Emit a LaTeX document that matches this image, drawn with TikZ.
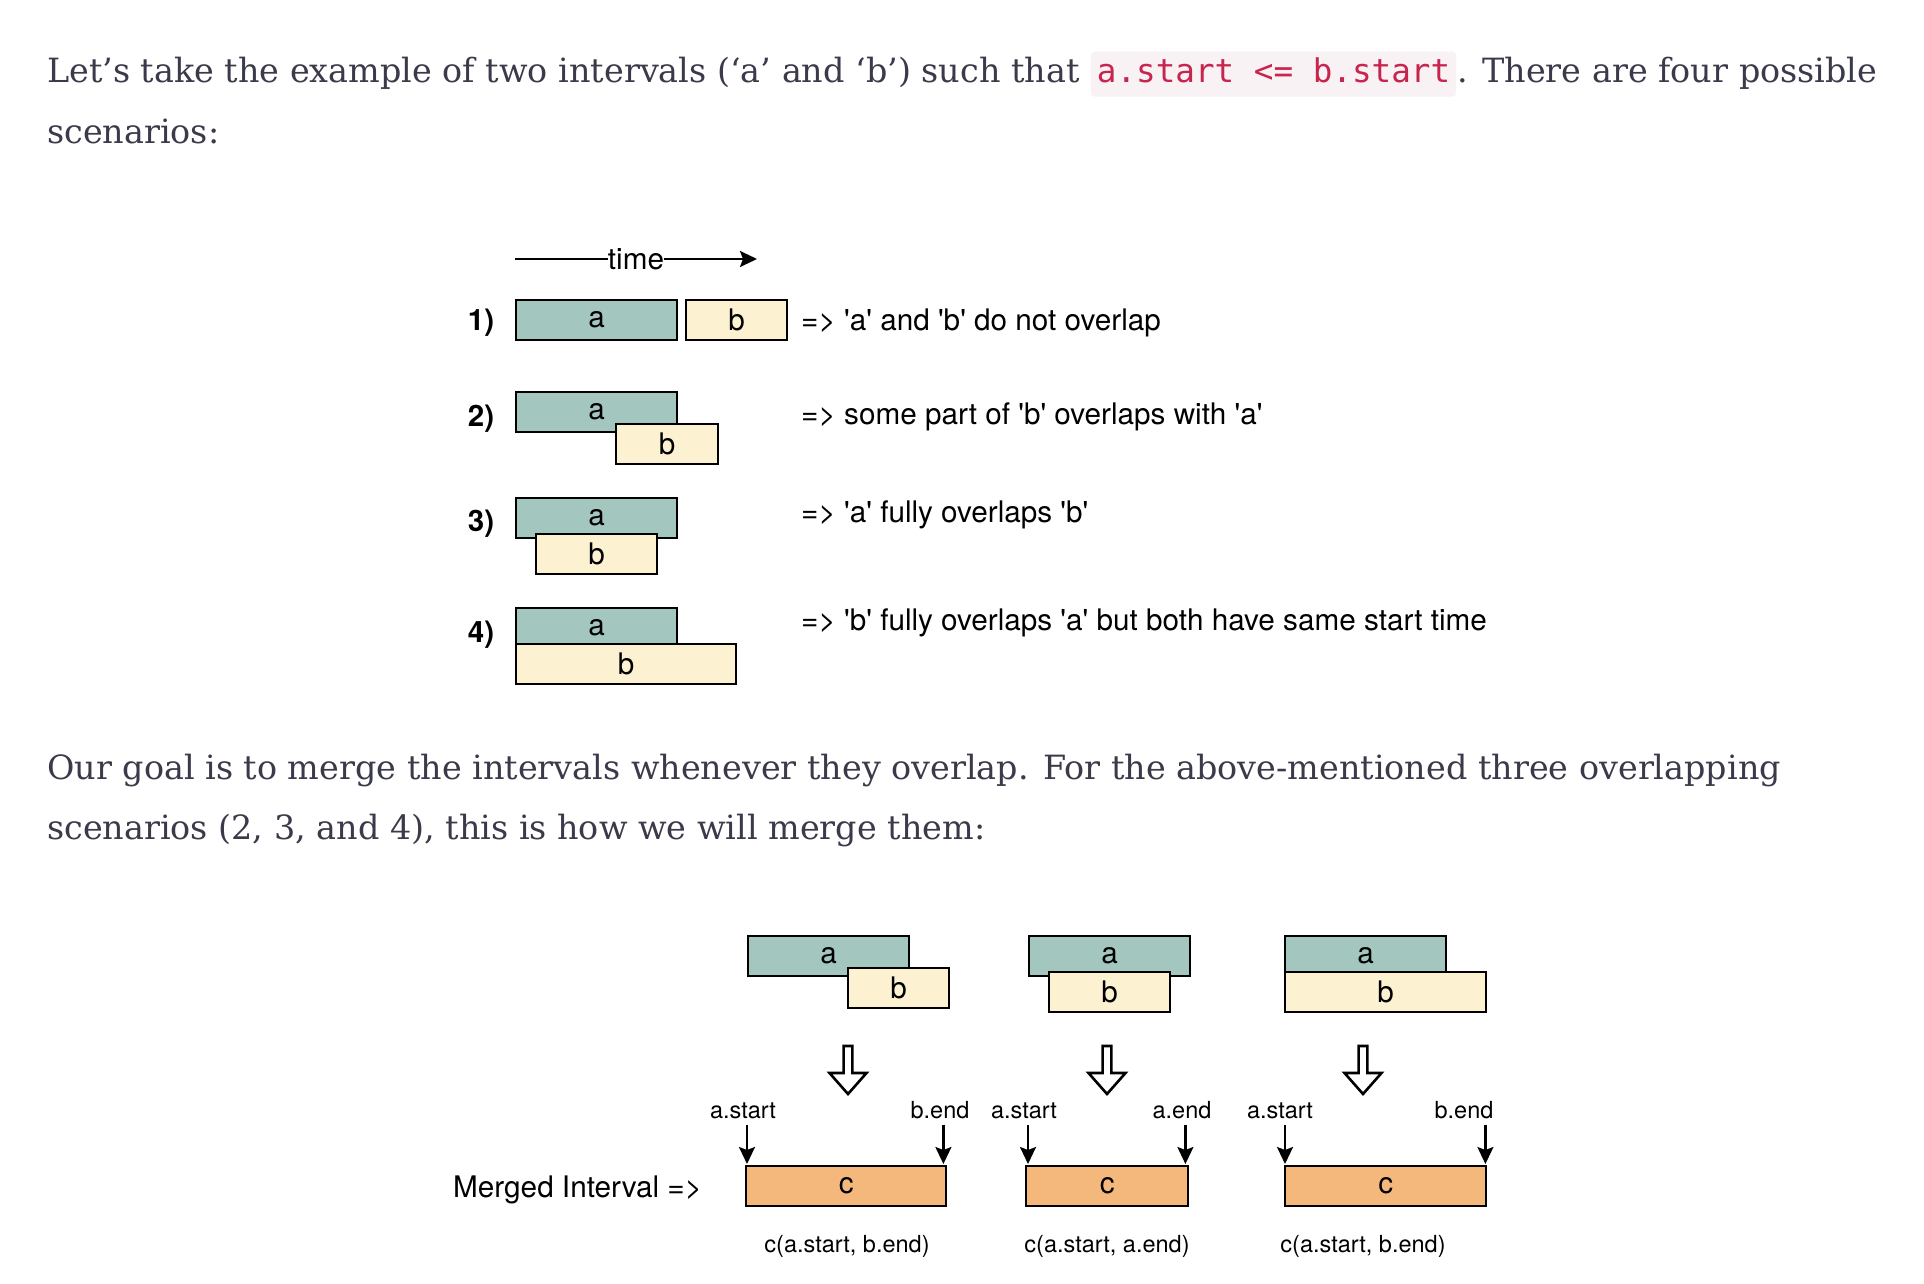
\documentclass[tikz,border=0pt]{standalone}
\usepackage{fontspec}
\newfontfamily\bodyfont{DejaVu Serif}
\newfontfamily\codefont{DejaVu Sans Mono}
\newfontfamily\diagfont[Ligatures=TeXOff]{TeX Gyre Heros}
\usetikzlibrary{arrows.meta}
\usetikzlibrary{positioning}
\definecolor{bodygray}{HTML}{3A3A4A}
\definecolor{codered}{HTML}{C7254E}
\definecolor{codebg}{HTML}{F9F2F4}
\definecolor{afill}{HTML}{A3C6BF}
\definecolor{bfill}{HTML}{FCF1D1}
\definecolor{cfill}{HTML}{F4B77C}
\tikzset{
    bodytext/.style={anchor=base west, inner sep=0, text=bodygray,
        font=\bodyfont\fontsize{33.4}{40}\selectfont},
    codetext/.style={anchor=base west, inner xsep=6, inner ysep=7,
        text height=24, text depth=7, fill=codebg, rounded corners=4,
        text=codered, font=\codefont\fontsize{32.6}{38}\selectfont},
    interval/.style={rectangle, anchor=north west, draw=black,
        line width=2.4, minimum height=40, inner sep=0,
        font=\diagfont\fontsize{29.7}{34}\selectfont},
    abox/.style={interval, fill=afill, minimum width=161},
    bbox/.style={interval, fill=bfill},
    cbox/.style={interval, fill=cfill},
    desc/.style={anchor=base west, inner sep=0,
        font=\diagfont\fontsize{29.7}{34}\selectfont},
    rowlabel/.style={anchor=base, inner sep=0,
        font=\diagfont\bfseries\fontsize{29.5}{34}\selectfont},
    endlabel/.style={anchor=base, inner sep=0,
        font=\diagfont\fontsize{23.5}{28}\selectfont},
    pointer/.style={line width=2.2, -{Stealth[length=17pt,width=16pt,inset=3pt]}},
    mergearrow/.style={draw=black, line width=2.6, fill=white, line join=miter},
}
\begin{document}
\begin{tikzpicture}[x=1pt, y=-1pt]
    \useasboundingbox[fill=white] (0,0) rectangle (1924,1284);

    % text above
    \node[bodytext] (intro) at (47,82.7)
        {Let’s take the example of two intervals (‘a’ and ‘b’) such that};
    \node[codetext] (cond) at ([xshift=11]intro.base east) {a.start <= b.start};
    \node[bodytext] (introend) at ([xshift=1]cond.base east)
        {. There are four possible};
    \node[bodytext] (intro2) at (47,144) {scenarios:};

    % time axis
    \coordinate (time0) at (515,259);
    \coordinate (time1) at (757,259);
    \draw[pointer] (time0) -- node[fill=white, inner xsep=0, inner ysep=2,
        font=\diagfont\fontsize{29.7}{34}\selectfont] (timelabel) {time} (time1);

    % the four scenarios
    \node[rowlabel] (row1) at (481,330) {1)};
    \node[abox] (a1) at (515,299) {a};
    \node[bbox, minimum width=101] (b1) at (685,299) {b};
    \node[desc] (d1) at (801,330) {=> 'a' and 'b' do not overlap};

    \node[rowlabel] (row2) at (481,426) {2)};
    \node[abox] (a2) at (515,391) {a};
    \node[bbox, minimum width=102] (b2) at (615,423) {b};
    \node[desc] (d2) at (801,424) {=> some part of 'b' overlaps with 'a'};

    \node[rowlabel] (row3) at (481,531) {3)};
    \node[abox] (a3) at (515,497) {a};
    \node[bbox, minimum width=121] (b3) at (535,533) {b};
    \node[desc] (d3) at (801,522) {=> 'a' fully overlaps 'b'};

    \node[rowlabel] (row4) at (481,642) {4)};
    \node[abox] (a4) at (515,607) {a};
    \node[bbox, minimum width=220] (b4) at (515,643) {b};
    \node[desc] (d4) at (801,630)
        {=> 'b' fully overlaps 'a' but both have same start time};

    % text between
    \node[bodytext] (goal) at (47,779) {Our goal is to merge the intervals
        whenever they overlap. For the above-mentioned three overlapping};
    \node[bodytext] (goal2) at (47,839)
        {scenarios (2, 3, and 4), this is how we will merge them:};

    % merging
    \node[abox] (ma1) at (747,935) {a};
    \node[bbox, minimum width=101] (mb1) at (847,967) {b};
    \node[abox] (ma2) at (1028,935) {a};
    \node[bbox, minimum width=121] (mb2) at (1048,971) {b};
    \node[abox] (ma3) at (1284,935) {a};
    \node[bbox, minimum width=201] (mb3) at (1284,971) {b};

    \foreach \cx in {848,1107,1363}
        \draw[mergearrow] (\cx-4.4,1046) -- (\cx+4.4,1046) -- (\cx+4.4,1073)
            -- (\cx+18.5,1073) -- (\cx,1094) -- (\cx-18.5,1073)
            -- (\cx-4.4,1073) -- cycle;

    \node[cbox, minimum width=200] (c1) at (745,1165) {c};
    \node[cbox, minimum width=162] (c2) at (1025,1165) {c};
    \node[cbox, minimum width=201] (c3) at (1284,1165) {c};

    \node[endlabel] (s1) at (743,1118) {a.start};
    \node[endlabel] (e1) at (940,1118) {b.end};
    \node[endlabel] (s2) at (1024,1118) {a.start};
    \node[endlabel] (e2) at (1182,1118) {a.end};
    \node[endlabel] (s3) at (1280,1118) {a.start};
    \node[endlabel] (e3) at (1464,1118) {b.end};

    \draw[pointer] ([xshift=2,yshift=-6]s1.south -| c1.west) -- ([xshift=2,yshift=1]c1.north west);
    \draw[pointer] ([xshift=-4,yshift=-6]e1.south -| c1.east) -- ([xshift=-4,yshift=1]c1.north east);
    \draw[pointer] ([xshift=3,yshift=-6]s2.south -| c2.west) -- ([xshift=3,yshift=1]c2.north west);
    \draw[pointer] ([xshift=-4,yshift=-6]e2.south -| c2.east) -- ([xshift=-4,yshift=1]c2.north east);
    \draw[pointer] ([xshift=1,yshift=-6]s3.south -| c3.west) -- ([xshift=1,yshift=1]c3.north west);
    \draw[pointer] ([xshift=-2,yshift=-6]e3.south -| c3.east) -- ([xshift=-2,yshift=1]c3.north east);

    \node[desc] (merged) at (453,1197) {Merged Interval =>};
    \node[endlabel] (r1) at (847,1252) {c(a.start, b.end)};
    \node[endlabel] (r2) at (1107,1252) {c(a.start, a.end)};
    \node[endlabel] (r3) at (1363,1252) {c(a.start, b.end)};
\end{tikzpicture}
\end{document}
